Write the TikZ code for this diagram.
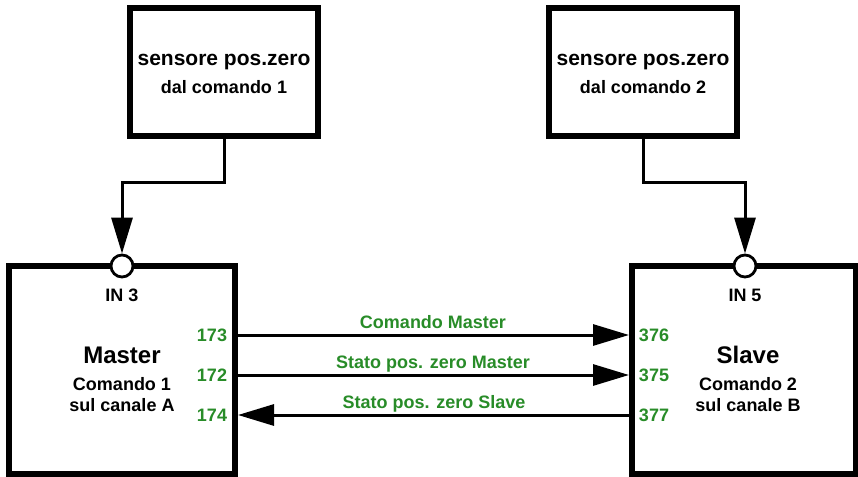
\documentclass[tikz,border=0pt]{standalone}
\usepackage{fontspec}
\setmainfont{Liberation Sans}
\usetikzlibrary{arrows.meta}
\definecolor{portgreen}{RGB}{40,140,40}
\begin{document}
\begin{tikzpicture}[x=1pt,y=-1pt,
  thickbox/.style={draw, line width=6pt, fill=white, inner sep=0pt},
  port/.style={circle, draw, line width=2.8pt, fill=white, minimum size=22pt, inner sep=0pt},
  conn/.style={line width=3pt, -{Triangle[length=36pt,width=21pt]}},
  txt/.style={inner sep=0pt, text height=12.9pt, text depth=0pt, font=\bfseries\fontsize{18}{20}\selectfont},
  big/.style={txt, text height=15pt, font=\bfseries\fontsize{21}{24}\selectfont},
  title/.style={txt, text height=17.2pt, font=\bfseries\fontsize{24}{28}\selectfont},
  gtxt/.style={txt, text=portgreen}]
\useasboundingbox (0,0) rectangle (858,476);

% sensor boxes
\node[thickbox, minimum width=188pt, minimum height=128pt] (s1) at (224,72) {};
\node[big] (s1a) at (224,58) {sensore pos.zero};
\node[txt] (s1b) at (224,87) {dal comando 1};

\node[thickbox, minimum width=188pt, minimum height=128pt] (s2) at (643,72) {};
\node[big] (s2a) at (643,58) {sensore pos.zero};
\node[txt] (s2b) at (643,87) {dal comando 2};

% main boxes
\node[thickbox, minimum width=226pt, minimum height=208pt] (master) at (122,370) {};
\node[thickbox, minimum width=224pt, minimum height=208pt] (slave) at (744,370) {};

% input ports
\node[port] (in3) at (122,266) {};
\node[port] (in5) at (745,266) {};

% master texts
\node[txt] (lin3) at (122,295) {IN 3};
\node[title] (mt) at (122,355) {Master};
\node[txt] (mc1) at (122,384) {Comando 1};
\node[txt] (mc2) at (122,405) {sul canale A};

% slave texts
\node[txt] (lin5) at (745,295) {IN 5};
\node[title] (st) at (748,355) {Slave};
\node[txt] (sc1) at (748,384) {Comando 2};
\node[txt] (sc2) at (748,405) {sul canale B};

% port numbers
\node[gtxt] (n173) at (212,335) {173};
\node[gtxt] (n172) at (212,375) {172};
\node[gtxt] (n174) at (212,415) {174};
\node[gtxt] (n376) at (654,335) {376};
\node[gtxt] (n375) at (654,375) {375};
\node[gtxt] (n377) at (654,415) {377};

% connector labels
\node[gtxt] (l1) at (433,322) {Comando Master};
\node[gtxt] (l2) at (433,362) {Stato pos. zero Master};
\node[gtxt] (l3) at (434,402) {Stato pos. zero Slave};

% sensor connectors
\draw[conn] (s1.south) -- ++(0,43) -| (in3.north);
\draw[conn] (s2.south) -- ++(0,43) -| (in5.north);

% signal connectors
\draw[conn] (master.east |- n173) -- (slave.west |- n376);
\draw[conn] (master.east |- n172) -- (slave.west |- n375);
\draw[conn] (slave.west |- n377) -- (master.east |- n174);
\end{tikzpicture}
\end{document}
